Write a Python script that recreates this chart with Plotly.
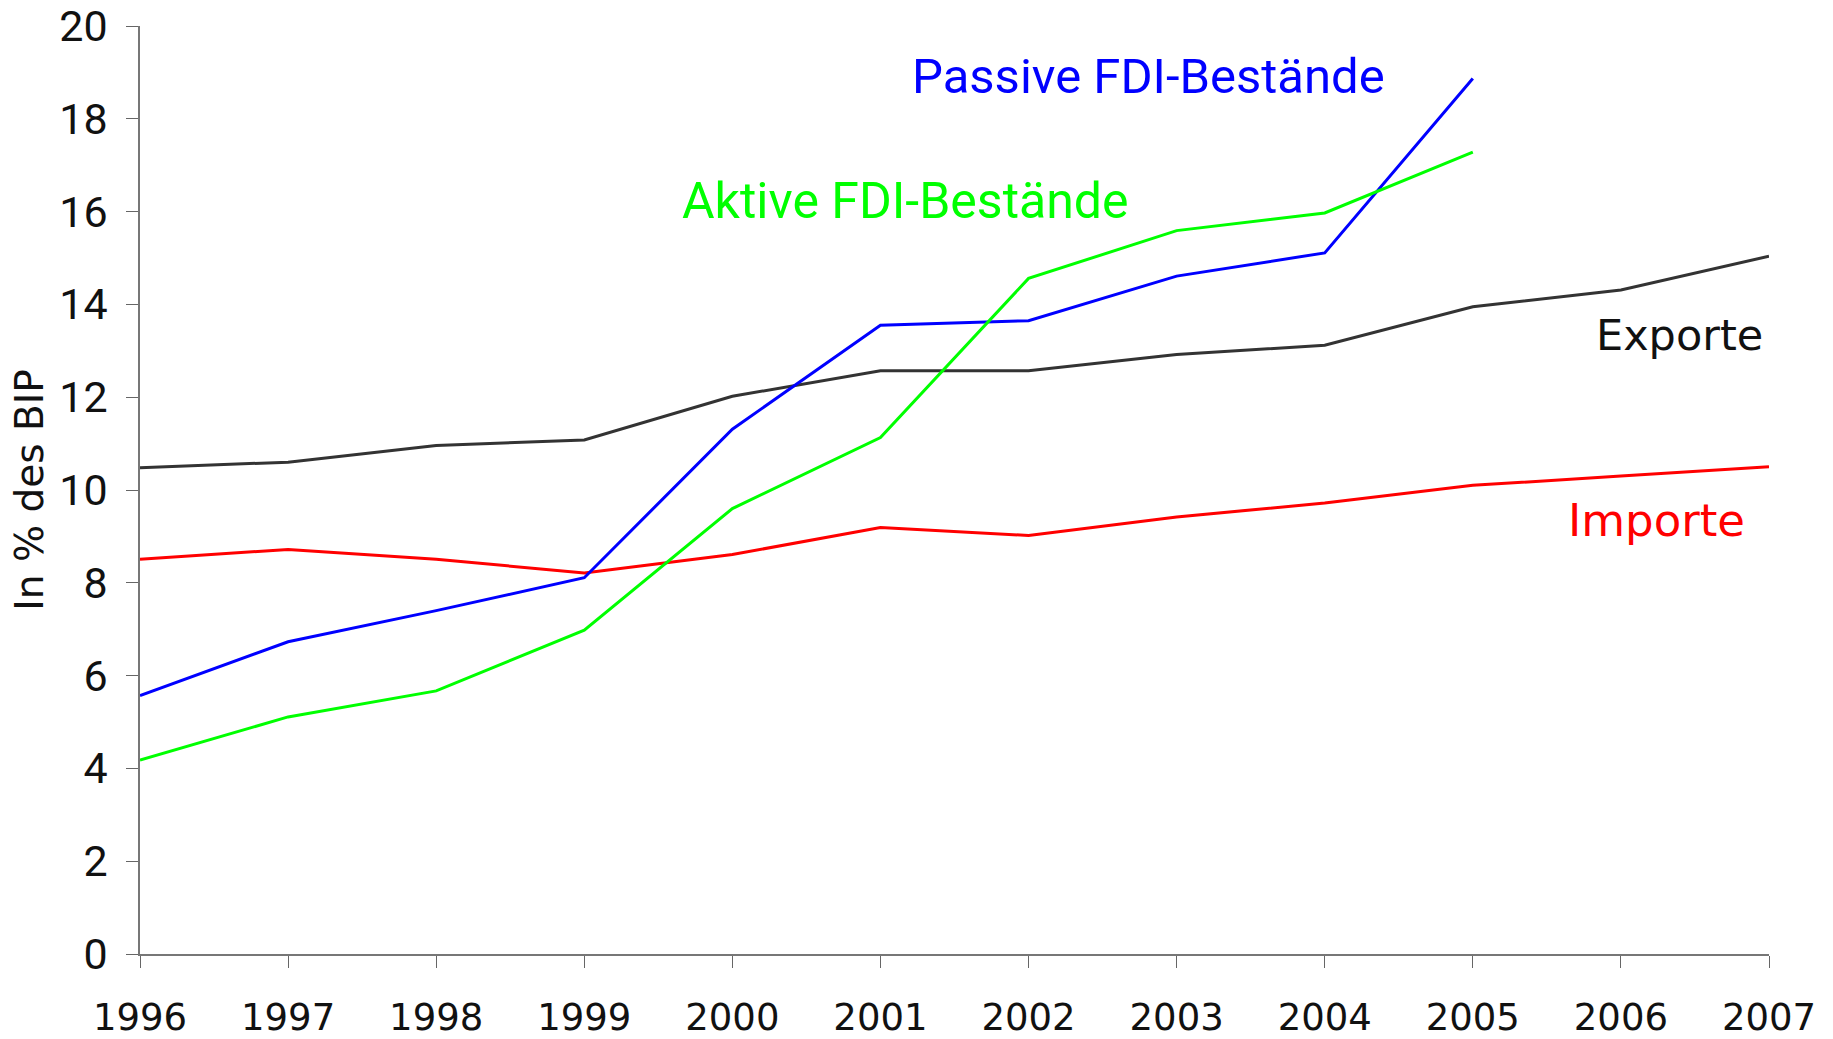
import plotly.graph_objects as go

years = list(range(1996, 2008))
exporte = [10.48, 10.6, 10.96, 11.08, 12.02, 12.57, 12.57, 12.92, 13.12, 13.95, 14.31, 15.04]
importe = [8.51, 8.72, 8.51, 8.21, 8.61, 9.19, 9.02, 9.42, 9.72, 10.1, 10.3, 10.5]
fdi_years = list(range(1996, 2006))
passive_fdi = [5.57, 6.73, 7.4, 8.11, 11.31, 13.55, 13.65, 14.61, 15.11, 18.87]
aktive_fdi = [4.18, 5.11, 5.67, 6.98, 9.6, 11.13, 14.56, 15.59, 15.97, 17.28]
y_ticks = [0, 2, 4, 6, 8, 10, 12, 14, 16, 18, 20]

fig = go.Figure()
fig.add_trace(go.Scatter(x=years, y=exporte, mode='lines', name='Exporte',
                         line=dict(color='#333333', width=3)))
fig.add_trace(go.Scatter(x=years, y=importe, mode='lines', name='Importe',
                         line=dict(color='#ff0000', width=3)))
fig.add_trace(go.Scatter(x=fdi_years, y=passive_fdi, mode='lines',
                         name='Passive FDI-Bestände',
                         line=dict(color='#0000ff', width=3)))
fig.add_trace(go.Scatter(x=fdi_years, y=aktive_fdi, mode='lines',
                         name='Aktive FDI-Bestände',
                         line=dict(color='#00ff00', width=3)))

narrow_font = 'Roboto, sans-serif'
wide_font = 'DejaVu Sans'
annotations = [
    dict(x=2002.81, y=18.92, text='Passive FDI-Bestände', color='#0000ff',
         family=narrow_font, size=49, xanchor='center'),
    dict(x=2001.17, y=16.22, text='Aktive FDI-Bestände', color='#00ff00',
         family=narrow_font, size=50, xanchor='center'),
    dict(x=2006.97, y=13.33, text='Exporte', color='#111111',
         family=wide_font, size=43, xanchor='right'),
    dict(x=2006.85, y=9.35, text='Importe', color='#ff0000',
         family=wide_font, size=45, xanchor='right'),
]
for a in annotations:
    fig.add_annotation(x=a['x'], y=a['y'], text=a['text'], showarrow=False,
                       xanchor=a['xanchor'], yanchor='middle',
                       font=dict(family=a['family'], size=a['size'], color=a['color']))

fig.update_layout(
    width=1833, height=1039,
    plot_bgcolor='white', paper_bgcolor='white',
    showlegend=False,
    margin=dict(l=140, r=64, t=26, b=85),
    xaxis=dict(range=[1996, 2007], tickvals=years, automargin=False,
               ticks='outside', ticklen=12, tickcolor='#666666',
               showline=True, linecolor='#777777', linewidth=1.5,
               showgrid=False, zeroline=False, ticklabelstandoff=18,
               tickfont=dict(family=wide_font, size=37, color='#111111')),
    yaxis=dict(range=[0, 20], tickvals=y_ticks, automargin=False,
               ticks='outside', ticklen=12, tickcolor='#666666',
               showline=True, linecolor='#777777', linewidth=1.5,
               showgrid=False, zeroline=False, ticklabelstandoff=10,
               tickfont=dict(family=narrow_font, size=43, color='#111111'),
               title=dict(text='In % des BIP', standoff=4,
                          font=dict(family=wide_font, size=39, color='#111111'))),
)

# drop the default 8px page margin so the figure fills the window exactly
fig.write_html('out.html', config={'displayModeBar': False},
               post_script="document.body.style.margin='0';")
